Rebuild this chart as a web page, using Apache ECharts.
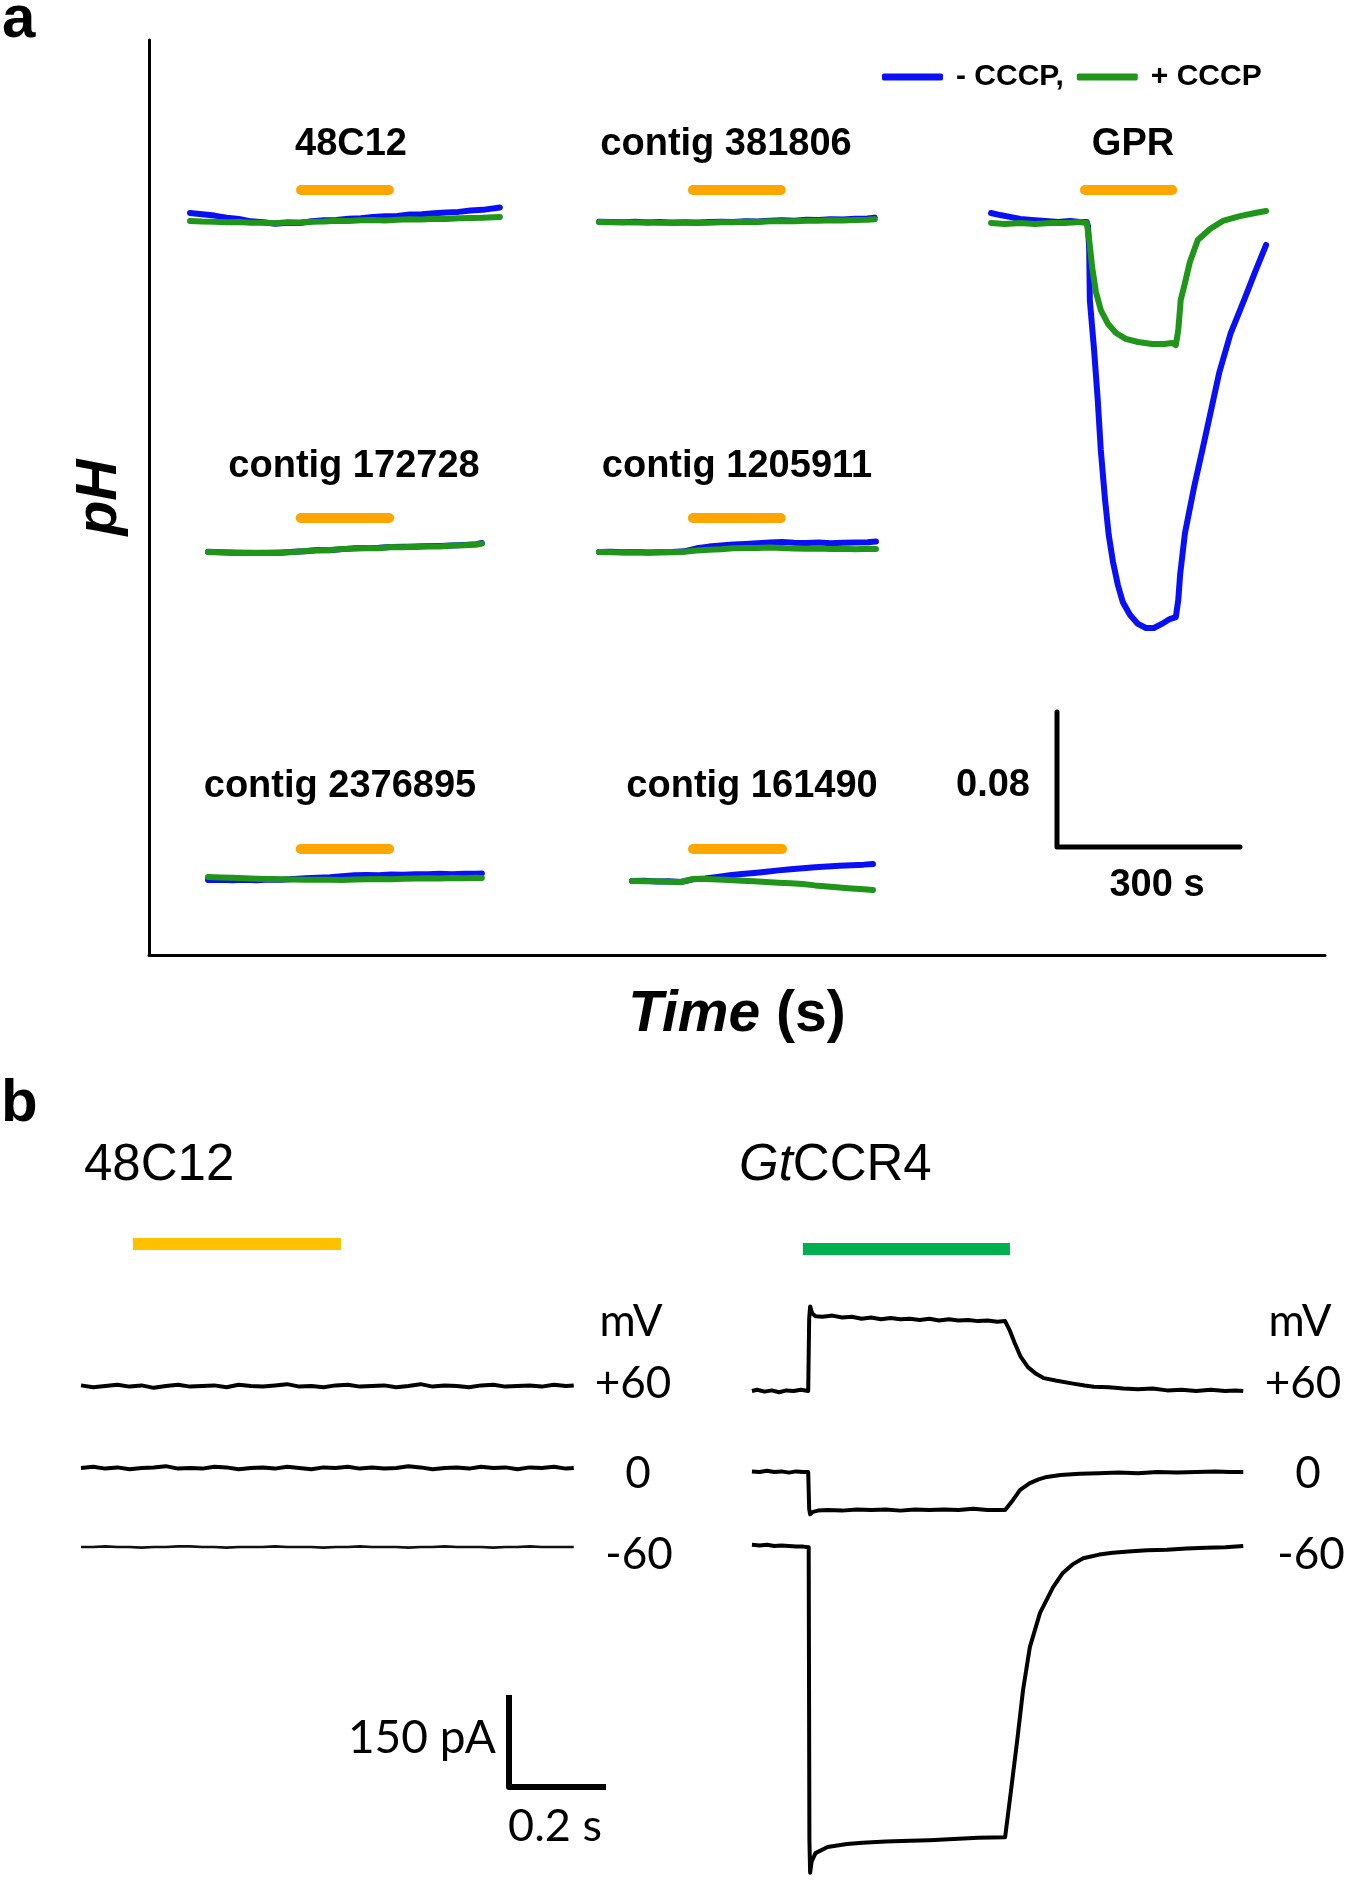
<!DOCTYPE html>
<html>
<head>
<meta charset="utf-8">
<script src="https://cdn.jsdelivr.net/npm/echarts@6/dist/echarts.min.js"></script>
<style>
html,body{margin:0;padding:0;background:#fff;}
#c{width:1350px;height:1882px;}
</style>
</head>
<body>
<div id="c"></div>
<script>
// ================= DATA =================
// Panel a: subplot names
const subplotNames = ['48C12','contig 381806','GPR','contig 172728','contig 1205911','contig 2376895','contig 161490'];
const legendNames = ['- CCCP,', '+ CCCP'];

// Panel a traces: time (s from trace start), delta pH relative to start
const c48Time  = [0,20,40,60,80,100,120,140,160,180,200,220,240,260,280,300,320,340,360,380,400,420,440,460,480,508];
const c48Blue  = [0.0048,0.0040,0.0032,0.0020,0.0012,-0.0002,-0.0008,-0.0016,-0.0010,-0.0012,-0.0002,0.0004,0.0006,0.0014,0.0016,0.0024,0.0028,0.0030,0.0038,0.0040,0.0046,0.0050,0.0054,0.0062,0.0066,0.0080];
const c48Green = [0,-0.0003,-0.0004,-0.0008,-0.0006,-0.0011,-0.0010,-0.0014,-0.0008,-0.0009,-0.0004,-0.0003,0.0001,0.0000,0.0004,0.0006,0.0003,0.0007,0.0010,0.0009,0.0013,0.0012,0.0016,0.0018,0.0019,0.0024];

const c381Time  = [0,20,40,60,80,100,120,140,160,180,200,220,240,260,280,300,320,340,360,380,400,420,440,452];
const c381Blue  = [0.0002,0,-0.0002,0.0001,-0.0003,0,-0.0004,-0.0002,-0.0005,0,0.0002,0,0.0005,0.0003,0.0008,0.0010,0.0008,0.0013,0.0012,0.0016,0.0015,0.0019,0.0021,0.0026];
const c381Green = [0,-0.0002,-0.0001,-0.0003,-0.0002,-0.0004,-0.0003,-0.0005,-0.0003,-0.0004,-0.0001,-0.0002,0.0002,0,0.0004,0.0005,0.0004,0.0008,0.0007,0.0010,0.0009,0.0012,0.0013,0.0016];

const gprBlueTime = [0,15,31,48,67,89,110,130,146,157,159,161,162,169,175,180,187,193,200,208,216,228,241,254,267,280,293,303,307,310,318,333,349,374,393,415,433,451];
const gprBlue     = [0.0059,0.0047,0.0036,0.0024,0.0018,0.0012,0.0006,0.0012,0.0006,0.0006,-0.0018,-0.016,-0.0456,-0.0753,-0.1049,-0.1345,-0.1641,-0.1849,-0.2009,-0.2145,-0.2246,-0.2323,-0.2376,-0.24,-0.24,-0.2376,-0.2347,-0.2335,-0.2234,-0.2086,-0.1837,-0.1564,-0.1304,-0.0889,-0.0652,-0.0456,-0.029,-0.013];
const gprGreenTime = [0,23,48,72,97,121,146,157,161,166,172,180,192,205,221,241,264,284,297,303,307,311,318,326,339,359,380,408,433,451];
const gprGreen     = [0,-0.0006,0,-0.0006,0,0,0.0006,0,-0.0101,-0.0267,-0.0409,-0.0516,-0.0599,-0.0652,-0.0687,-0.0705,-0.0717,-0.0717,-0.0711,-0.0723,-0.0634,-0.0456,-0.0356,-0.0231,-0.0101,-0.0036,0.0012,0.0041,0.0059,0.0071];

const c172Time  = [0,20,40,60,80,100,120,140,160,180,200,220,240,260,280,300,320,340,360,380,400,420,440,449];
const c172Blue  = [0.0002,-0.0001,-0.0004,-0.0005,-0.0006,-0.0004,-0.0004,0.0002,0.0005,0.0012,0.0011,0.0017,0.0022,0.0023,0.0025,0.0029,0.0031,0.0031,0.0036,0.0035,0.0039,0.0042,0.0046,0.0053];
const c172Green = [0,-0.0002,-0.0003,-0.0006,-0.0004,-0.0006,-0.0003,0,0.0006,0.0010,0.0012,0.0018,0.0020,0.0024,0.0022,0.0030,0.0028,0.0032,0.0034,0.0033,0.0038,0.0040,0.0044,0.0050];

const c1205Time  = [0,20,40,60,80,100,120,140,160,180,200,220,240,260,280,300,320,340,360,380,400,420,440,454];
const c1205Blue  = [0,0.0001,-0.0002,0,-0.0003,-0.0001,0,0.0004,0.0022,0.0032,0.0038,0.0044,0.0048,0.0052,0.0056,0.0060,0.0055,0.0053,0.0056,0.0052,0.0055,0.0057,0.0058,0.0062];
const c1205Green = [0,-0.0001,-0.0003,-0.0001,-0.0004,-0.0002,-0.0001,0.0002,0.0009,0.0014,0.0016,0.0022,0.0024,0.0023,0.0026,0.0024,0.0020,0.0019,0.0021,0.0018,0.0019,0.0017,0.0019,0.0018];

const c2376Time  = [0,20,40,60,80,100,120,140,160,180,200,220,240,260,280,300,320,340,360,380,400,420,440,449];
const c2376Blue  = [-0.0018,-0.0016,-0.0020,-0.0017,-0.0019,-0.0015,-0.0016,-0.0012,-0.0008,-0.0004,-0.0001,0.0004,0.0010,0.0012,0.0011,0.0015,0.0014,0.0017,0.0016,0.0019,0.0017,0.0020,0.0019,0.0021];
const c2376Green = [0,-0.0003,-0.0005,-0.0008,-0.0010,-0.0012,-0.0014,-0.0015,-0.0016,-0.0017,-0.0016,-0.0018,-0.0015,-0.0014,-0.0012,-0.0013,-0.0010,-0.0009,-0.0008,-0.0009,-0.0006,-0.0007,-0.0005,-0.0006];

const c1614Time  = [0,20,40,60,80,100,120,140,160,180,200,220,240,260,280,300,320,340,360,380,395];
const c1614Blue  = [0,0.0001,-0.0003,-0.0002,-0.0006,0.0010,0.0015,0.0024,0.0034,0.0041,0.0048,0.0055,0.0063,0.0069,0.0075,0.0082,0.0086,0.0090,0.0094,0.0097,0.0101];
const c1614Green = [0,-0.0001,-0.0002,-0.0004,-0.0006,0.0012,0.0012,0.0009,0.0006,0.0002,-0.0001,-0.0006,-0.0010,-0.0014,-0.0018,-0.0026,-0.0032,-0.0038,-0.0044,-0.0049,-0.0053];

// light stimulus (s from trace start)
const stimOnA  = [182,154,154,152,154,152,100];
const stimOffA = [326,298,297,297,298,297,246];

// scale bars
const scalePH = 0.08, scaleTimeA = 300;
const scalePA = 150, scaleTimeB = 0.2;

// Panel b: whole-cell currents (pA) vs time (s)
const bTitles = ['48C12', 'GtCCR4'];
const holdingLabels = ['mV', '+60', '0', '-60'];
const leftTime = [0,0.025,0.05,0.075,0.1,0.125,0.15,0.175,0.2,0.225,0.25,0.275,0.3,0.325,0.35,0.375,0.4,0.425,0.45,0.475,0.5,0.525,0.55,0.575,0.6,0.625,0.65,0.675,0.7,0.725,0.75,0.775,0.8,0.825,0.85,0.875,0.9,0.925,0.95,0.975,1.0,1.016];
const leftPos60 = [1,-2,0,2,-1,1,-3,0,2,-1,0,1,-2,2,0,-1,1,3,-1,0,-2,1,2,-1,0,1,-2,0,3,-1,1,0,-2,1,2,-1,0,1,-1,2,0,1];
const leftZero  = [0,2,-1,1,-2,0,1,3,-1,0,-1,2,1,-2,0,1,-1,2,0,-2,1,0,2,-1,1,-1,0,3,1,-2,0,1,-1,2,0,1,-2,1,0,2,-1,0];
const leftNeg60 = [0,0,1,0,0,-1,0,0,1,1,0,0,-1,0,0,0,1,0,0,0,-1,0,0,1,0,0,0,-1,0,0,1,0,0,0,-1,0,0,1,0,0,0,0];

const gtPos60 = [[0.004,0],[0.015,2],[0.03,-1],[0.045,1],[0.06,-2],[0.075,1],[0.09,0],[0.105,2],[0.12,0],
  [0.122,118],[0.124,138],[0.128,127],[0.135,122],[0.15,121],[0.17,123],[0.19,120],[0.21,121],[0.23,118],[0.25,120],[0.27,117],[0.29,119],[0.31,117],[0.33,118],[0.35,116],[0.37,118],[0.39,115],[0.41,117],[0.43,115],[0.45,116],[0.47,114],[0.49,115],[0.51,113],[0.526,114],
  [0.536,98],[0.546,78],[0.558,56],[0.573,39],[0.59,28],[0.606,21],[0.63,17],[0.666,12],[0.69,9],[0.709,7],[0.74,6],[0.77,4],[0.8,3],[0.83,4],[0.86,1],[0.89,2],[0.92,0],[0.95,2],[0.98,0],[1.0,1],[1.017,0]];
const gtZero = [[0.004,1],[0.02,0],[0.035,2],[0.05,0],[0.065,1],[0.08,-1],[0.095,1],[0.11,0],[0.12,0],
  [0.122,-60],[0.124,-69],[0.13,-65],[0.14,-63],[0.16,-62],[0.19,-63],[0.22,-61],[0.25,-62],[0.28,-61],[0.31,-63],[0.34,-61],[0.37,-62],[0.4,-61],[0.43,-62],[0.46,-60],[0.49,-62],[0.526,-62],
  [0.542,-46],[0.557,-29],[0.577,-18],[0.595,-12],[0.612,-8],[0.64,-5],[0.68,-3],[0.72,-2],[0.76,-1],[0.8,-2],[0.84,0],[0.88,-1],[0.92,0],[0.96,1],[0.99,0],[1.017,0]];
const gtNeg60 = [[0.004,2],[0.02,1],[0.035,2],[0.05,0],[0.065,1],[0.08,0],[0.095,-1],[0.11,-1],[0.121,-2],
  [0.1225,-480],[0.124,-533],[0.127,-515],[0.135,-501],[0.16,-491],[0.2,-486],[0.232,-484],[0.28,-482],[0.33,-481],[0.37,-480],[0.42,-478],[0.47,-476],[0.526,-475],
  [0.538,-400],[0.551,-317],[0.563,-235],[0.577,-165],[0.598,-109],[0.625,-67],[0.645,-44],[0.665,-30],[0.687,-20],[0.72,-14],[0.748,-11],[0.78,-9],[0.819,-7],[0.86,-6],[0.9,-4],[0.94,-3],[0.98,-2],[1.017,0]];

const lightOnB  = [0.107, 0.109];
const lightOffB = [0.536, 0.536];

// ================= LAYOUT / STYLE =================
const FONT = '"Liberation Sans", Arial, sans-serif';
const CAL = 'Lato, "Liberation Sans", sans-serif';
const BLUE = '#0a10f5', GREEN = '#1f951a', ORANGE = '#ffa500';

const PX_PER_S_A = 0.61, PX_PER_PH = 1687.5;
const A_T_MAX = 520, A_MIN = -0.30, A_MAX = 0.05;
const PX_PER_S_B = 485, PX_PER_PA = 0.613;
const B_T_MAX = 1.1, B_MIN = -600, B_MAX = 300;

const grids = [], xAxes = [], yAxes = [], series = [], texts = [];
function addGrid(g, x, y) {
  grids.push(Object.assign({outerBoundsMode: 'none', containLabel: false}, g));
  const i = grids.length - 1;
  xAxes.push(Object.assign({gridIndex: i, type: 'value', show: false, splitLine: {show: false}}, x));
  yAxes.push(Object.assign({gridIndex: i, type: 'value', show: false, splitLine: {show: false}}, y));
  return i;
}
function addLine(i, data, color, width, name, cap, z) {
  series.push({
    type: 'line', name: name, xAxisIndex: i, yAxisIndex: i, data: data,
    showSymbol: false, symbol: 'none', silent: true, animation: false, clip: false,
    itemStyle: {color: color},
    lineStyle: {color: color, width: width, cap: cap || 'round', join: 'round'},
    z: z || 2
  });
}
function zip(ts, vs) { return ts.map((t, k) => [t, vs[k]]); }
function addText(x, y, text, font, align, extra) {
  texts.push({type: 'text', x: x, y: y, silent: true,
    style: Object.assign({text: text, font: font, fill: '#000', align: align || 'center', verticalAlign: 'middle'}, extra || {})});
}

// ---- Panel a: main axes ----
addGrid({left: 149, top: 40, width: 1176, height: 915},
  {show: true, min: 0, max: 1, axisLine: {show: true, lineStyle: {color: '#000', width: 3}}, axisTick: {show: false}, axisLabel: {show: false},
   name: '{i|Time}{b| (s)}', nameLocation: 'middle', nameGap: 32,
   nameTextStyle: {rich: {i: {fontFamily: FONT, fontStyle: 'italic', fontWeight: 'bold', fontSize: 57, color: '#000'},
                          b: {fontFamily: FONT, fontWeight: 'bold', fontSize: 57, color: '#000'}}}},
  {show: true, min: 0, max: 1, axisLine: {show: true, lineStyle: {color: '#000', width: 3}}, axisTick: {show: false}, axisLabel: {show: false},
   name: 'pH', nameLocation: 'middle', nameGap: 20, nameRotate: 90,
   nameTextStyle: {fontFamily: FONT, fontStyle: 'italic', fontWeight: 'bold', fontSize: 57, color: '#000'}});

const subData = [
  [c48Time, c48Blue, c48Time, c48Green],
  [c381Time, c381Blue, c381Time, c381Green],
  [gprBlueTime, gprBlue, gprGreenTime, gprGreen],
  [c172Time, c172Blue, c172Time, c172Green],
  [c1205Time, c1205Blue, c1205Time, c1205Green],
  [c2376Time, c2376Blue, c2376Time, c2376Green],
  [c1614Time, c1614Blue, c1614Time, c1614Green]
];
// origin of each trace (px), stimulus bar row (px), title centre (px)
const subLayout = [
  {x: 190, y: 221, barY: 190, tx: 351, ty: 145},
  {x: 599, y: 222, barY: 190, tx: 726, ty: 145},
  {x: 991, y: 223, barY: 190, tx: 1133, ty: 145},
  {x: 208, y: 552, barY: 518, tx: 354, ty: 467},
  {x: 599, y: 552, barY: 518, tx: 737, ty: 467},
  {x: 208, y: 877, barY: 849, tx: 340, ty: 787},
  {x: 632, y: 881, barY: 849, tx: 752, ty: 787}
];
subLayout.forEach((L, k) => {
  const gi = addGrid({left: L.x, top: L.y - A_MAX * PX_PER_PH, width: A_T_MAX * PX_PER_S_A, height: (A_MAX - A_MIN) * PX_PER_PH},
    {min: 0, max: A_T_MAX}, {min: A_MIN, max: A_MAX});
  const d = subData[k];
  addLine(gi, zip(d[0], d[1]), BLUE, 6, legendNames[0], 'round', 3);
  addLine(gi, zip(d[2], d[3]), GREEN, 6, legendNames[1], 'round', 4);
  const sv = (L.y - L.barY) / PX_PER_PH;
  addLine(gi, [[stimOnA[k], sv], [stimOffA[k], sv]], ORANGE, 10, null, 'round', 3);
  addText(L.tx, L.ty, subplotNames[k], 'bold 38px ' + FONT);
});

// scale bar a
const sbA = addGrid({left: 1057, top: 712, width: scaleTimeA * PX_PER_S_A, height: scalePH * PX_PER_PH},
  {min: 0, max: scaleTimeA}, {min: 0, max: scalePH});
addLine(sbA, [[0, scalePH], [0, 0], [scaleTimeA, 0]], '#000', 5, null, 'round');
addText(993, 786, String(scalePH), 'bold 38px ' + FONT);
addText(1157, 886, scaleTimeA + ' s', 'bold 38px ' + FONT);

addText(2, 20, 'a', 'bold 60px ' + FONT, 'left');
addText(1, 1104, 'b', 'bold 60px ' + FONT, 'left');

// ---- Panel b ----
function bGrid(x0, y0) {
  return addGrid({left: x0, top: y0 - B_MAX * PX_PER_PA, width: B_T_MAX * PX_PER_S_B, height: (B_MAX - B_MIN) * PX_PER_PA},
    {min: 0, max: B_T_MAX}, {min: B_MIN, max: B_MAX});
}
const leftBase = [1386, 1468, 1547], rightBase = [1391, 1472, 1546];
const lightBarY = [1244, 1249];
const gL = leftBase.map(y => bGrid(81, y));
const gR = rightBase.map(y => bGrid(750, y));
addLine(gL[0], zip(leftTime, leftPos60), '#000', 4, null, 'butt');
addLine(gL[1], zip(leftTime, leftZero), '#000', 4, null, 'butt');
addLine(gL[2], zip(leftTime, leftNeg60), '#111', 2.6, null, 'butt');
addLine(gR[0], gtPos60, '#000', 4, null, 'butt');
addLine(gR[1], gtZero, '#000', 4, null, 'butt');
addLine(gR[2], gtNeg60, '#000', 4, null, 'butt');
const lvL = (leftBase[0] - lightBarY[0]) / PX_PER_PA, lvR = (rightBase[0] - lightBarY[1]) / PX_PER_PA;
addLine(gL[0], [[lightOnB[0], lvL], [lightOffB[0], lvL]], '#ffc000', 12, null, 'butt');
addLine(gR[0], [[lightOnB[1], lvR], [lightOffB[1], lvR]], '#00b050', 12, null, 'butt');

const sbB = addGrid({left: 509, top: 1695, width: scaleTimeB * PX_PER_S_B, height: scalePA * PX_PER_PA},
  {min: 0, max: scaleTimeB}, {min: 0, max: scalePA});
addLine(sbB, [[0, scalePA], [0, 0], [scaleTimeB, 0]], '#000', 6, null, 'butt');
texts.push({type: 'text', x: 496, y: 1738, silent: true, style: {text: scalePA + ' pA', font: '46px ' + CAL, fill: '#000', align: 'right', verticalAlign: 'middle'}});
addText(555, 1826, scaleTimeB + ' s', '45px ' + CAL);

addText(84, 1166, bTitles[0], '51px ' + FONT, 'left');
texts.push({type: 'text', x: 739, y: 1166, silent: true,
  style: {text: '{i|Gt}{n|CCR4}', align: 'left', verticalAlign: 'middle', fill: '#000',
    rich: {i: {fontFamily: FONT, fontStyle: 'italic', fontSize: 51, fill: '#000'}, n: {fontFamily: FONT, fontSize: 51, fill: '#000'}}}});

const labelYs = [1322, 1384, 1474, 1555];
const labelXL = [631, 633, 638, 639], labelXR = [1300, 1303, 1308, 1311];
holdingLabels.forEach((t, k) => {
  addText(labelXL[k], labelYs[k], t, '44px ' + CAL);
  addText(labelXR[k], labelYs[k], t, '44px ' + CAL);
});

const option = {
  backgroundColor: '#fff',
  animation: false,
  grid: grids, xAxis: xAxes, yAxis: yAxes, series: series,
  legend: {
    data: legendNames, left: 877, top: 57, icon: 'roundRect', itemWidth: 61, itemHeight: 7, itemGap: 13,
    selectedMode: false,
    textStyle: {fontFamily: FONT, fontWeight: 'bold', fontSize: 30, color: '#000', padding: [0, 0, 0, 8]}
  },
  graphic: {elements: texts}
};
const chart = echarts.init(document.getElementById('c'), null, {renderer: 'canvas', width: 1350, height: 1882});
chart.setOption(option);
</script>
</body>
</html>
